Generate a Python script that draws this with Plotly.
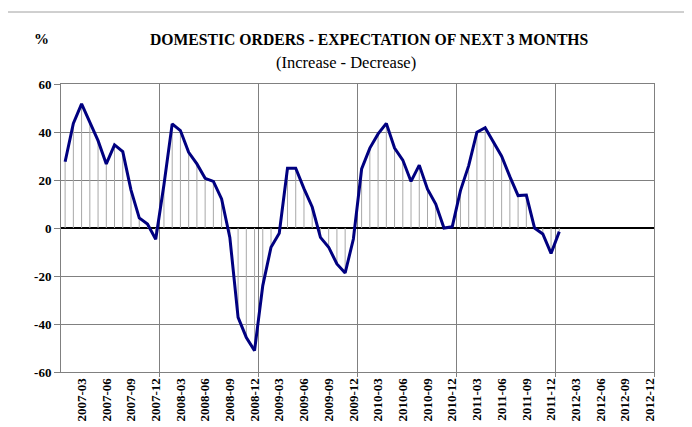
import plotly.graph_objects as go

# ---- data ----
months = [f"{y}-{m:02d}" for y in range(2007, 2013) for m in range(1, 13)]
values = [
    27.6, 43.6, 51.7, 44.4, 36.4, 26.7, 34.6, 31.8, 15.8, 4.2, 1.7, -4.7,      # 2007
    18.0, 43.4, 40.6, 31.5, 26.7, 20.7, 19.4, 12.1, -3.9, -37.2, -45.6, -51.1,  # 2008
    -24.0, -8.0, -2.2, 24.9, 24.9, 16.4, 8.75, -3.9, -8.0, -15.0, -18.75, -4.6, # 2009
    24.6, 33.3, 39.2, 43.6, 33.3, 28.3, 19.4, 26.2, 16.2, 10.0, 0.0, 0.5,       # 2010
    15.6, 26.0, 39.9, 41.8, 36.1, 29.9, 21.4, 13.5, 13.7, 0.0, -2.5, -10.6,     # 2011
    -1.5,                                                                       # 2012
]
tick_labels = [m for m in months if int(m[-2:]) % 3 == 0]
y_ticks = [-60, -40, -20, 0, 20, 40, 60]

title_text = "DOMESTIC ORDERS - EXPECTATION OF NEXT 3 MONTHS"
subtitle_text = "(Increase - Decrease)"
unit_text = "%"

# ---- derived ----
x = list(range(len(values)))
tickvals = [months.index(t) for t in tick_labels]
year_bounds = [i + 0.5 for i, m in enumerate(months) if m.endswith("-12")]

drop_x, drop_y = [], []
for i, v in zip(x, values):
    drop_x += [i, i, None]
    drop_y += [0, v, None]

FONT = "Liberation Serif"

fig = go.Figure()
fig.add_trace(go.Scatter(x=drop_x, y=drop_y, mode="lines",
                         line=dict(color="#a8a8a8", width=1),
                         hoverinfo="skip", showlegend=False))
fig.add_trace(go.Scatter(x=x, y=values, mode="lines",
                         line=dict(color="#000080", width=3),
                         showlegend=False))

# page body has an 8px default margin: work in screen pixels, shift by OFF
OFF = 8
W, H = 692 - OFF, 427 - OFF
L, R, T, B = 61 - OFF, 692 - 654, 84 - OFF, 427 - 372
pw, ph = W - L - R, H - T - B

def px(xs):
    return (xs - OFF - L) / pw

def py(ys):
    return (H - B - (ys - OFF)) / ph

fig.update_layout(
    width=W, height=H,
    margin=dict(l=L, r=R, t=T, b=B, autoexpand=False),
    paper_bgcolor="white", plot_bgcolor="white",
    font=dict(family=FONT, color="black"),
    xaxis=dict(
        range=[-0.5, len(months) - 0.5],
        tickmode="array", tickvals=tickvals, ticktext=[f"<b>{t}</b>" for t in tick_labels],
        tickangle=-90, ticks="",
        tickfont=dict(family=FONT, size=13, color="black"),
        showgrid=False, zeroline=False,
        showline=True, linecolor="#808080", linewidth=1, mirror=True,
        minor=dict(tickmode="array", tickvals=year_bounds, showgrid=True,
                   gridcolor="#808080", gridwidth=1, ticks="outside",
                   ticklen=4, tickcolor="#808080"),
    ),
    yaxis=dict(
        range=[-60, 60], tickmode="array", tickvals=y_ticks,
        ticktext=[f"<b>{v}</b>" for v in y_ticks],
        tickfont=dict(family=FONT, size=13, color="black"),
        showgrid=True, gridcolor="#808080", gridwidth=1,
        zeroline=True, zerolinecolor="black", zerolinewidth=1.5,
        showline=True, linecolor="#808080", linewidth=1, mirror=True,
        ticks="outside", ticklen=6, tickcolor="#808080",
    ),
    annotations=[
        dict(text=f"<b>{title_text}</b>", x=px(369), y=py(39), xref="paper", yref="paper",
             showarrow=False, font=dict(family=FONT, size=15.7, color="black"),
             xanchor="center", yanchor="middle"),
        dict(text=subtitle_text, x=px(346), y=py(62), xref="paper", yref="paper",
             showarrow=False, font=dict(family=FONT, size=16.5, color="black"),
             xanchor="center", yanchor="middle"),
        dict(text=f"<b>{unit_text}</b>", x=px(41), y=py(39), xref="paper", yref="paper",
             showarrow=False, font=dict(family=FONT, size=15, color="black"),
             xanchor="center", yanchor="middle"),
    ],
    shapes=[
        dict(type="rect", xref="paper", yref="paper",
             x0=px(5), x1=px(720), y0=py(460), y1=py(12),
             line=dict(color="#a0a0a0", width=1), layer="below"),
    ],
)

fig.write_html("out.html")
